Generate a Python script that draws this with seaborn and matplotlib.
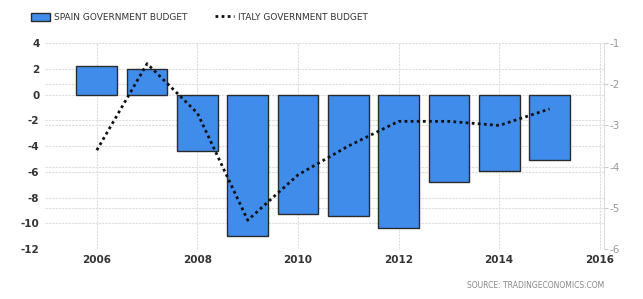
import matplotlib
matplotlib.use("Agg")
import matplotlib.pyplot as plt
import seaborn as sns
import pandas as pd
from matplotlib.patches import Patch
from matplotlib.lines import Line2D

years = [2006, 2007, 2008, 2009, 2010, 2011, 2012, 2013, 2014, 2015]
spain = [2.2, 2.0, -4.4, -11.0, -9.3, -9.4, -10.4, -6.8, -5.9, -5.1]
italy = [-3.6, -1.5, -2.7, -5.3, -4.2, -3.5, -2.9, -2.9, -3.0, -2.6]
left_ticks = [4, 2, 0, -2, -4, -6, -8, -10, -12]
right_ticks = [-1, -2, -3, -4, -5, -6]
x_ticks = [2006, 2008, 2010, 2012, 2014, 2016]

sns.set_style("white")
plt.rcParams['font.family'] = ['DejaVu Sans']

df = pd.DataFrame({"year": years, "spain": spain, "italy": italy})

LEFT_LIM = (-12, 4)
RIGHT_LIM = (-6, -1)

fig = plt.figure(figsize=(6.43, 2.99), dpi=100)
ax = fig.add_axes([0.07, 0.167, 0.869, 0.689])
bar_color = "#3F8CEB"
sns.barplot(data=df, x="year", y="spain", native_scale=True, width=0.81,
            color=bar_color, edgecolor="#2b2b2b", linewidth=1.0, saturation=1,
            ax=ax, zorder=2)
ax.set_xlim(2004.97, 2016.08)
ax.set_ylim(*LEFT_LIM)
ax.set_yticks(left_ticks)
# right-axis gridlines expressed in left-axis units so they sit beneath the bars
scale = (LEFT_LIM[1] - LEFT_LIM[0]) / (RIGHT_LIM[1] - RIGHT_LIM[0])
minor = [LEFT_LIM[0] + (r - RIGHT_LIM[0]) * scale for r in right_ticks]
ax.set_yticks(minor, minor=True)
ax.set_xticks(x_ticks)
ax.set_xticklabels([str(t) for t in x_ticks], fontsize=7.5, fontweight="bold", color="#333333")
ax.set_yticklabels([str(t) for t in left_ticks], fontsize=7.5, fontweight="bold", color="#333333")
ax.set_xlabel("")
ax.set_ylabel("")
ax.grid(True, which="major", axis="both", color="#dddddd", linestyle=(0, (2, 1)), linewidth=0.8)
ax.grid(True, which="minor", axis="y", color="#dddddd", linestyle=(0, (2, 1)), linewidth=0.8)
ax.set_axisbelow(True)
for s in ax.spines.values():
    s.set_visible(False)
ax.tick_params(axis="both", which="both", length=0, pad=4)

ax2 = ax.twinx()
sns.lineplot(data=df, x="year", y="italy", ax=ax2, color="#111111",
             linestyle=(0, (1, 1.2)), linewidth=2.0, zorder=3)
ax2.set_ylim(*RIGHT_LIM)
ax2.set_yticks(right_ticks)
ax2.set_yticklabels([str(t) for t in right_ticks], fontsize=7.5, color="#999999")
ax2.set_ylabel("")
ax2.grid(False)
for k, s in ax2.spines.items():
    s.set_visible(k == "right")
ax2.spines["right"].set_color("#dddddd")
ax2.tick_params(axis="y", length=3, color="#cccccc", pad=1)
ax2.set_xlim(2004.97, 2016.08)

handles = [Patch(facecolor=bar_color, edgecolor="#2b2b2b", linewidth=1.0),
           Line2D([0], [0], color="#111111", linestyle=(0, (1, 1.2)), linewidth=2.0)]
fig.legend(handles, ["SPAIN GOVERNMENT BUDGET", "ITALY GOVERNMENT BUDGET"],
           loc="upper left", bbox_to_anchor=(0.035, 0.985), ncol=2, frameon=False,
           fontsize=6.5, handlelength=2.2, handleheight=1.0, columnspacing=3.0,
           handletextpad=0.4, labelcolor="#333333")

fig.text(0.94, 0.03, "SOURCE: TRADINGECONOMICS.COM", ha="right", va="bottom",
         fontsize=5.5, color="#888888")

fig.savefig("out.png", dpi=100)
